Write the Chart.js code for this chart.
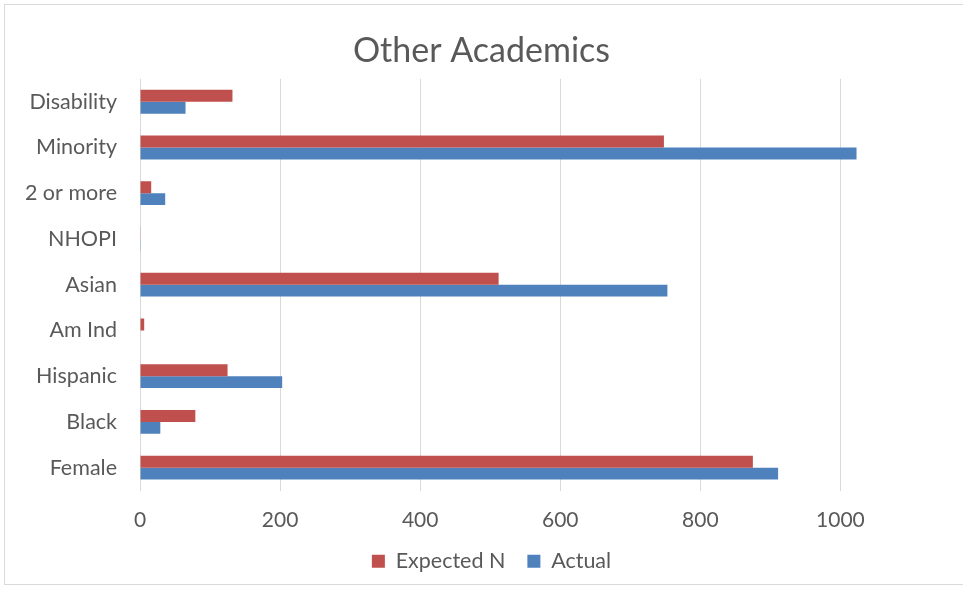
<!DOCTYPE html>
<html>
<head>
<meta charset="utf-8">
<script src="https://cdn.jsdelivr.net/npm/chart.js@4/dist/chart.umd.min.js"></script>
<style>
  html, body { margin: 0; padding: 0; background: #ffffff; overflow: hidden; }
  #wrap { position: relative; width: 963px; height: 590px; overflow: hidden; }
  #frame { position: absolute; left: 4px; top: 4px; width: 975px; height: 581px; border: 1.5px solid #d9d9d9; box-sizing: border-box; pointer-events: none; }
  canvas { position: absolute; left: 0; top: 0; }
</style>
</head>
<body>
<div id="wrap">
  <canvas id="chart" width="963" height="590"></canvas>
  <div id="frame"></div>
</div>
<script>
// Groups, listed top to bottom
const categories = ["Disability", "Minority", "2 or more", "NHOPI", "Asian", "Am Ind", "Hispanic", "Black", "Female"];
const expectedN = [132, 748, 16, 0.5, 512, 6, 125, 79, 875];
const actual    = [65, 1023, 36, 1, 753, 0, 203, 29, 911];
const xTicks    = [0, 200, 400, 600, 800, 1000];

const textColor = "#595959";
const fontFamily = "Lato, 'Open Sans', 'DejaVu Sans', sans-serif";

// Nudge the bottom legend slightly to the right of the canvas centre
const legendShift = {
  id: "legendShift",
  afterLayout(chart) {
    if (chart.legend) {
      chart.legend.left += 10;
      chart.legend.right += 10;
    }
  }
};

new Chart(document.getElementById("chart"), {
  type: "bar",
  data: {
    labels: categories,
    datasets: [
      { label: "Expected N", data: expectedN, backgroundColor: "#C0504D", borderWidth: 0 },
      { label: "Actual", data: actual, backgroundColor: "#4F81BD", borderWidth: 0 }
    ]
  },
  plugins: [legendShift],
  options: {
    indexAxis: "y",
    responsive: false,
    animation: false,
    devicePixelRatio: 1,
    layout: { padding: { top: 0, right: 0, bottom: 8, left: 0 } },
    categoryPercentage: 0.523,
    barPercentage: 1.0,
    plugins: {
      title: {
        display: true,
        text: "Other Academics",
        color: textColor,
        font: { family: fontFamily, size: 34, weight: "normal" },
        padding: { top: 31, bottom: 7 }
      },
      legend: {
        position: "bottom",
        labels: {
          color: textColor,
          font: { family: fontFamily, size: 21.5 },
          boxWidth: 13,
          boxHeight: 13,
          padding: 22
        }
      },
      tooltip: { enabled: false }
    },
    scales: {
      x: {
        min: 0,
        max: 1175,
        afterBuildTicks: (scale) => { scale.ticks = xTicks.map(v => ({ value: v })); },
        afterFit: (scale) => { scale.height = 38; },
        grid: { color: "#d9d9d9", lineWidth: 1, drawTicks: false },
        border: { display: false },
        ticks: {
          color: textColor,
          font: { family: fontFamily, size: 21 },
          padding: 17,
          maxRotation: 0,
          callback: (value) => String(value)
        }
      },
      y: {
        afterFit: (scale) => { scale.width = 140; },
        grid: { display: false, drawTicks: false },
        border: { display: false },
        ticks: {
          color: textColor,
          font: { family: fontFamily, size: 21.5 },
          padding: 23
        }
      }
    }
  }
});
</script>
</body>
</html>
